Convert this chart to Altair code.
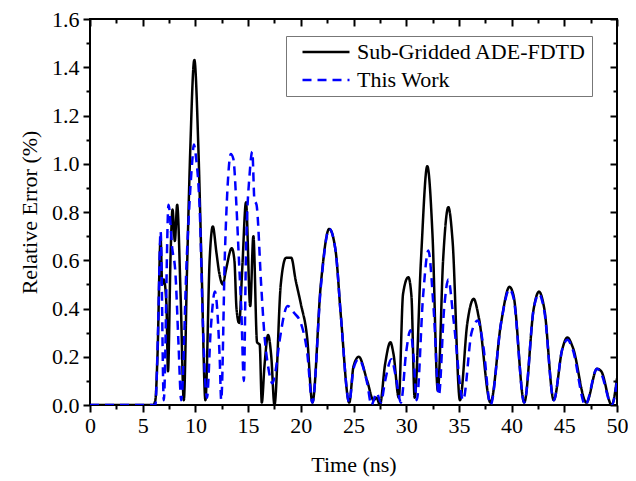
import altair as alt
import pandas as pd

FONT = "Liberation Serif"
series_names = ["Sub-Gridded ADE-FDTD", "This Work"]

black_t = [0, 6.0, 6.2, 6.4, 6.7, 6.85, 7.0, 7.25, 7.4, 7.65, 7.83, 8.05, 8.27, 8.6, 8.9,
           9.2, 9.5, 9.9, 10.3, 10.6, 10.95, 11.35, 11.65, 12.0, 12.25, 12.6, 12.9, 13.45,
           13.7, 13.9, 14.15, 14.45, 14.8, 15.2, 15.5, 15.85, 16.1, 16.3, 16.55, 16.9,
           17.2, 17.5, 18.1, 18.6, 19.1, 19.5, 20.0, 20.6, 21.1, 21.9, 22.7, 23.3, 23.8,
           24.6, 25.0, 25.5, 26.3, 26.9, 27.2, 27.5, 28.0, 28.5, 28.8, 29.3, 29.7, 30.2,
           30.5, 30.8, 31.4, 32.0, 32.5, 33.0, 33.5, 34.0, 34.4, 35.1, 35.8, 36.4, 36.9,
           38.0, 39.0, 39.8, 40.2, 41.2, 42.1, 42.6, 43.1, 44.0, 44.8, 45.3, 45.8, 47.1,
           48.1, 48.5, 49.5, 50.0]
black_v = [0, 0.0, 0.02, 0.2, 0.69, 0.50, 0.52, 0.42, 0.14, 0.63, 0.81, 0.68, 0.83, 0.45, 0.02,
           0.55, 1.04, 1.43, 1.04, 0.55, 0.02, 0.60, 0.74, 0.63, 0.55, 0.50, 0.56, 0.65,
           0.60, 0.40, 0.34, 0.57, 0.84, 0.41, 0.70, 0.26, 0.25, 0.01, 0.16, 0.29,
           0.20, 0.0, 0.50, 0.61, 0.61, 0.52, 0.42, 0.28, 0.01, 0.50, 0.73, 0.64, 0.37,
           0.01, 0.16, 0.20, 0.10, 0.02, 0.03, 0.0, 0.17, 0.26, 0.21, 0.03, 0.46, 0.53,
           0.45, 0.03, 0.60, 0.99, 0.70, 0.06, 0.60, 0.82, 0.68, 0.02, 0.34, 0.44, 0.36,
           0.01, 0.34, 0.49, 0.45, 0.01, 0.40, 0.47, 0.40, 0.02, 0.23, 0.28, 0.24, 0.01,
           0.15, 0.14, 0.0, 0.11]

blue_t = [0, 6.2, 6.45, 6.7, 7.0, 7.45, 7.8, 8.1, 8.4, 8.65, 9.2, 9.7, 9.85, 10.05, 10.45,
          10.7, 11.1, 11.45, 11.85, 12.3, 12.45, 12.8, 13.1, 13.35, 13.6, 13.9, 14.1, 14.35,
          14.6, 14.8, 15.15, 15.4, 15.6, 15.8, 16.25, 16.55, 16.9, 17.3, 17.6, 18.0, 18.75,
          19.4, 20.0, 20.6, 21.1, 21.9, 22.7, 23.3, 23.8, 24.6, 25.0, 25.5, 26.3, 26.7,
          27.2, 27.6, 28.0, 28.6, 29.0, 29.5, 30.0, 30.4, 30.7, 31.0, 31.6, 32.1, 32.6,
          33.1, 33.6, 34.0, 34.5, 35.4, 36.2, 36.8, 37.3, 38.0, 39.0, 39.8, 40.2, 41.2,
          42.1, 42.6, 43.1, 44.0, 44.8, 45.3, 45.8, 47.0, 48.1, 48.5, 49.5, 50.0]
blue_v = [0, 0.0, 0.30, 0.72, 0.02, 0.83, 0.65, 0.55, 0.25, 0.02, 0.63, 1.01, 1.08, 1.03, 0.76,
          0.35, 0.03, 0.31, 0.47, 0.20, 0.02, 0.63, 0.94, 1.04, 1.02, 0.82, 0.63, 0.40,
          0.10, 0.63, 0.96, 1.05, 0.85, 0.83, 0.49, 0.29, 0.16, 0.09, 0.14, 0.27, 0.41,
          0.38, 0.34, 0.22, 0.01, 0.49, 0.73, 0.64, 0.37, 0.01, 0.15, 0.19, 0.09, 0.0,
          0.05, 0.01, 0.10, 0.19, 0.12, 0.01, 0.22, 0.31, 0.20, 0.02, 0.45, 0.64, 0.40,
          0.04, 0.40, 0.52, 0.35, 0.02, 0.30, 0.35, 0.25, 0.0, 0.34, 0.48, 0.44, 0.01,
          0.40, 0.46, 0.39, 0.02, 0.23, 0.27, 0.23, 0.0, 0.15, 0.13, 0.0, 0.10]

x_major = list(range(0, 51, 5))
x_minor = [2.5 + 5 * i for i in range(10)]
y_major = [round(0.2 * i, 1) for i in range(9)]
y_minor = [round(0.1 + 0.2 * i, 1) for i in range(8)]

df = pd.concat([
    pd.DataFrame({"t": black_t, "v": black_v, "series": series_names[0], "order": range(len(black_t))}),
    pd.DataFrame({"t": blue_t, "v": blue_v, "series": series_names[1], "order": range(len(blue_t))}),
])

xs = alt.Scale(domain=[0, 50], nice=False, zero=False)
ys = alt.Scale(domain=[0, 1.6], nice=False)

common = dict(grid=False, domain=False, tickColor="black", tickWidth=2)

legend_props = dict(title=None, orient="none", legendX=196, legendY=17,
                    strokeColor="#777777", fillColor="white", padding=5,
                    symbolType="M-4.7,0H4.7", symbolSize=100, symbolStrokeWidth=2.5,
                    symbolOffset=24, labelFont=FONT, labelFontSize=22, labelColor="black",
                    labelOffset=20, rowPadding=6, labelLimit=400)

lines = alt.Chart(df).mark_line(strokeWidth=2.5, interpolate="monotone", clip=True).encode(
    x=alt.X("t:Q", scale=xs, axis=alt.Axis(values=x_major, format="d", title="Time (ns)",
            orient="bottom", tickSize=7, labelFont=FONT, labelFontSize=22, labelColor="black",
            labelPadding=3, titleFont=FONT, titleFontSize=22, titleFontWeight="normal",
            titleColor="black", titlePadding=18, labelFlush=False, **common)),
    y=alt.Y("v:Q", scale=ys, axis=alt.Axis(values=y_major, format=".1f", title="Relative Error (%)",
            orient="left", tickSize=7, labelFont=FONT, labelFontSize=22, labelColor="black",
            labelPadding=4, titleFont=FONT, titleFontSize=22, titleFontWeight="normal",
            titleColor="black", titlePadding=10, labelFlush=False, **common)),
    color=alt.Color("series:N", scale=alt.Scale(domain=series_names, range=["#000000", "#0000ff"]),
                    legend=alt.Legend(**legend_props)),
    strokeDash=alt.StrokeDash("series:N", scale=alt.Scale(domain=series_names, range=[[1, 0], [9, 6]]),
                              legend=alt.Legend(**legend_props)),
    order="order:Q",
)

base = alt.Chart(df).mark_point(opacity=0, size=1)

minor_out = base.encode(
    x=alt.X("t:Q", scale=xs, axis=alt.Axis(values=x_minor, labels=False, title=None, orient="bottom",
                                           tickSize=4, **common)),
    y=alt.Y("v:Q", scale=ys, axis=alt.Axis(values=y_minor, labels=False, title=None, orient="left",
                                           tickSize=4, **common)),
)

major_in = base.encode(
    x=alt.X("t:Q", scale=xs, axis=alt.Axis(values=x_major, labels=False, title=None, orient="top",
                                           tickSize=7, offset=-7, **common)),
    y=alt.Y("v:Q", scale=ys, axis=alt.Axis(values=y_major, labels=False, title=None, orient="right",
                                           tickSize=7, offset=-7, **common)),
)

minor_in = base.encode(
    x=alt.X("t:Q", scale=xs, axis=alt.Axis(values=x_minor, labels=False, title=None, orient="top",
                                           tickSize=4, offset=-4, **common)),
    y=alt.Y("v:Q", scale=ys, axis=alt.Axis(values=y_minor, labels=False, title=None, orient="right",
                                           tickSize=4, offset=-4, **common)),
)

chart = alt.layer(lines, minor_out, major_in, minor_in).resolve_scale(
    x="independent", y="independent"
).properties(
    width=527, height=386,
    autosize=alt.AutoSizeParams(type="none"),
    padding={"left": 82, "top": 11, "right": 11, "bottom": 73},
    background="white",
).configure_view(stroke="black", strokeWidth=2)

chart.save("out.html", embed_options={"renderer": "svg", "actions": False})
